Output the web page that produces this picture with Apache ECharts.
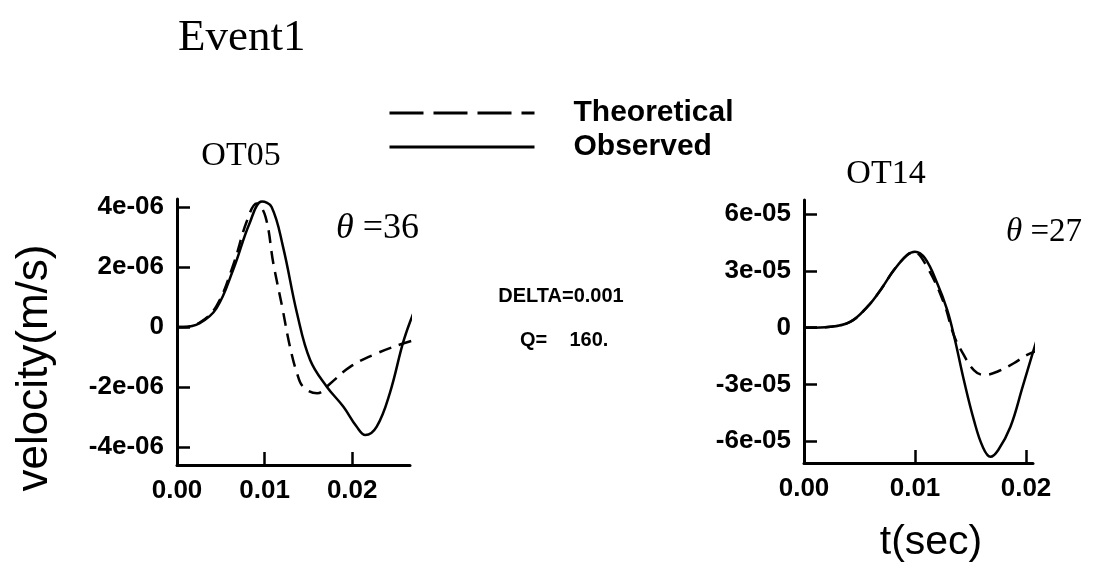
<!DOCTYPE html>
<html>
<head>
<meta charset="utf-8">
<script src="https://cdn.jsdelivr.net/npm/echarts@6/dist/echarts.min.js"></script>
<style>
html,body{margin:0;padding:0;background:#fff;}
#c{width:1099px;height:571px;}
</style>
</head>
<body>
<div id="c"></div>
<script>
// ---- Data (time in s, velocity in m/s) ----
// OT05 (values in units of 1e-6 m/s)
const ot05ObsT = [0, 0.0007, 0.0026, 0.0045, 0.0064, 0.0083, 0.0097, 0.0108, 0.0121, 0.0137, 0.0152, 0.0171, 0.019, 0.0205, 0.0215, 0.0228, 0.0243, 0.0259, 0.0272];
const ot05ObsV = [0, 0, 0.13, 0.62, 1.9, 3.47, 4.18, 4.0, 2.68, 0.46, -1.1, -1.99, -2.66, -3.32, -3.6, -3.32, -2.2, -0.43, 0.62];
const ot05TheoT = [0, 0.0007, 0.0026, 0.0045, 0.0064, 0.008, 0.0091, 0.0101, 0.011, 0.012, 0.0129, 0.0137, 0.0144, 0.016, 0.0175, 0.0198, 0.0228, 0.0259, 0.0272];
const ot05TheoV = [0, 0, 0.15, 0.7, 2.05, 3.55, 4.12, 3.68, 2.12, 0.68, -0.66, -1.54, -1.99, -2.21, -1.88, -1.32, -0.88, -0.54, -0.43];
// OT14 (values in units of 1e-5 m/s)
const ot14ObsT = [0, 0.0003, 0.0024, 0.0042, 0.0057, 0.0069, 0.0081, 0.0093, 0.01, 0.0109, 0.012, 0.0129, 0.0136, 0.0144, 0.0153, 0.0161, 0.0168, 0.0175, 0.0186, 0.0197, 0.0206, 0.0212];
const ot14ObsV = [0, 0, 0.05, 0.32, 1.1, 2.0, 3.05, 3.85, 4.02, 3.67, 2.35, 0.94, -0.65, -2.77, -4.88, -6.3, -6.83, -6.47, -5.24, -3.12, -1.35, -0.21];
const ot14TheoT = [0, 0.0003, 0.0024, 0.0042, 0.0057, 0.0069, 0.0081, 0.0093, 0.0099, 0.0111, 0.0126, 0.0135, 0.0143, 0.0153, 0.0162, 0.0174, 0.0189, 0.0201, 0.0212];
const ot14TheoV = [0, 0, 0.05, 0.32, 1.1, 2.0, 3.05, 3.85, 4.0, 3.2, 1.3, -0.4, -1.35, -2.24, -2.5, -2.33, -1.88, -1.44, -1.18];

// ---- Tick values and labels ----
const xTicks = [0, 0.01, 0.02];
const xTickLabels = ['0.00', '0.01', '0.02'];
const yTicksLeft = [-4e-6, -2e-6, 0, 2e-6, 4e-6];
const yTickLabelsLeft = ['-4e-06', '-2e-06', '0', '2e-06', '4e-06'];
const yTicksRight = [-6e-5, -3e-5, 0, 3e-5, 6e-5];
const yTickLabelsRight = ['-6e-05', '-3e-05', '0', '3e-05', '6e-05'];

function pairs(ts, vs, scale) { return ts.map((t, i) => [t, vs[i] * scale]); }
function lookup(ticks, labels) {
  return function (v) {
    for (let i = 0; i < ticks.length; i++) {
      if (Math.abs(ticks[i] - v) <= Math.abs(ticks[ticks.length - 1]) * 1e-6) return labels[i];
    }
    return '';
  };
}

const labelFont = { color: '#000', fontFamily: 'Liberation Sans', fontWeight: 'bold', fontSize: 26 };
const axisLine = { show: true, onZero: false, lineStyle: { color: '#000', width: 3 } };
const tickStyle = { show: true, inside: true, length: 13, lineStyle: { color: '#000', width: 2.5 } };

function xAxis(gi, max) {
  return {
    type: 'value', gridIndex: gi, min: 0, max: max,
    axisLine: axisLine,
    axisTick: Object.assign({ customValues: xTicks }, tickStyle),
    axisLabel: Object.assign({ customValues: xTicks, margin: 13, formatter: lookup(xTicks, xTickLabels) }, labelFont),
    splitLine: { show: false }
  };
}
function yAxis(gi, min, max, ticks, labels) {
  return {
    type: 'value', gridIndex: gi, min: min, max: max,
    axisLine: axisLine,
    axisTick: Object.assign({ customValues: ticks }, tickStyle),
    axisLabel: Object.assign({ customValues: ticks, margin: 13, formatter: lookup(ticks, labels) }, labelFont),
    splitLine: { show: false }
  };
}

const lineBase = { type: 'line', smooth: 0.4, showSymbol: false, symbol: 'none', clip: false, silent: true, color: '#000' };

const option = {
  backgroundColor: '#fff',
  animation: false,
  color: ['#000'],
  grid: [
    { left: 177, top: 199, width: 233, height: 266 },
    { left: 804, top: 200, width: 229, height: 263 }
  ],
  xAxis: [xAxis(0, 0.0266), xAxis(1, 0.02063)],
  yAxis: [
    yAxis(0, -4.6e-6, 4.267e-6, yTicksLeft, yTickLabelsLeft),
    yAxis(1, -7.16e-5, 6.757e-5, yTicksRight, yTickLabelsRight)
  ],
  legend: {
    orient: 'vertical', left: 388, top: 98, padding: 0,
    itemWidth: 145, itemHeight: 30, itemGap: 4,
    itemStyle: { opacity: 0, borderWidth: 0 },
    data: [
      { name: 'Theoretical', lineStyle: { type: [34, 10], width: 3, color: '#000', opacity: 1 } },
      { name: 'Observed', lineStyle: { type: 'solid', width: 3, color: '#000', opacity: 1 } }
    ],
    textStyle: { color: '#000', fontFamily: 'Liberation Sans', fontWeight: 'bold', fontSize: 30, padding: [0, 0, 0, 34] }
  },
  series: [
    Object.assign({}, lineBase, { name: 'Theoretical', xAxisIndex: 0, yAxisIndex: 0, data: pairs(ot05TheoT, ot05TheoV, 1e-6), lineStyle: { color: '#000', width: 2.5, type: [13, 8] } }),
    Object.assign({}, lineBase, { name: 'Observed', xAxisIndex: 0, yAxisIndex: 0, data: pairs(ot05ObsT, ot05ObsV, 1e-6), lineStyle: { color: '#000', width: 2.5, type: 'solid' } }),
    Object.assign({}, lineBase, { name: 'Theoretical', xAxisIndex: 1, yAxisIndex: 1, data: pairs(ot14TheoT, ot14TheoV, 1e-5), lineStyle: { color: '#000', width: 2.5, type: [13, 8] } }),
    Object.assign({}, lineBase, { name: 'Observed', xAxisIndex: 1, yAxisIndex: 1, data: pairs(ot14ObsT, ot14ObsV, 1e-5), lineStyle: { color: '#000', width: 2.5, type: 'solid' } })
  ],
  graphic: [
    { type: 'text', left: 178, top: 16, style: { text: 'Event1', fill: '#000', font: '45px "Liberation Serif"' } },
    { type: 'text', x: 241, y: 156, style: { text: 'OT05', fill: '#000', font: '34px "Liberation Serif"', align: 'center', verticalAlign: 'middle' } },
    { type: 'text', x: 886, y: 174, style: { text: 'OT14', fill: '#000', font: '34px "Liberation Serif"', align: 'center', verticalAlign: 'middle' } },
    { type: 'text', x: 336, y: 229, style: { text: '{i|θ} =36', fill: '#000', font: '36px "Liberation Serif"', verticalAlign: 'middle', rich: { i: { fontStyle: 'italic', fontFamily: 'Liberation Serif', fontSize: 36 } } } },
    { type: 'text', x: 1006, y: 232, style: { text: '{i|θ} =27', fill: '#000', font: '33px "Liberation Serif"', verticalAlign: 'middle', rich: { i: { fontStyle: 'italic', fontFamily: 'Liberation Serif', fontSize: 33 } } } },
    { type: 'text', x: 561, y: 296, style: { text: 'DELTA=0.001', fill: '#000', font: 'bold 20px "Liberation Sans"', align: 'center', verticalAlign: 'middle' } },
    { type: 'text', x: 520, y: 340, style: { text: 'Q=    160.', fill: '#000', font: 'bold 20px "Liberation Sans"', align: 'left', verticalAlign: 'middle' } },
    { type: 'text', x: 35, y: 368, rotation: Math.PI / 2, style: { text: 'velocity(m/s)', fill: '#000', font: '44px "Liberation Sans"', align: 'center', verticalAlign: 'middle' } },
    { type: 'text', x: 931, y: 543, style: { text: 't(sec)', fill: '#000', font: '41px "Liberation Sans"', align: 'center', verticalAlign: 'middle' } }
  ]
};

const chart = echarts.init(document.getElementById('c'), null, { renderer: 'canvas' });
chart.setOption(option);
</script>
</body>
</html>
